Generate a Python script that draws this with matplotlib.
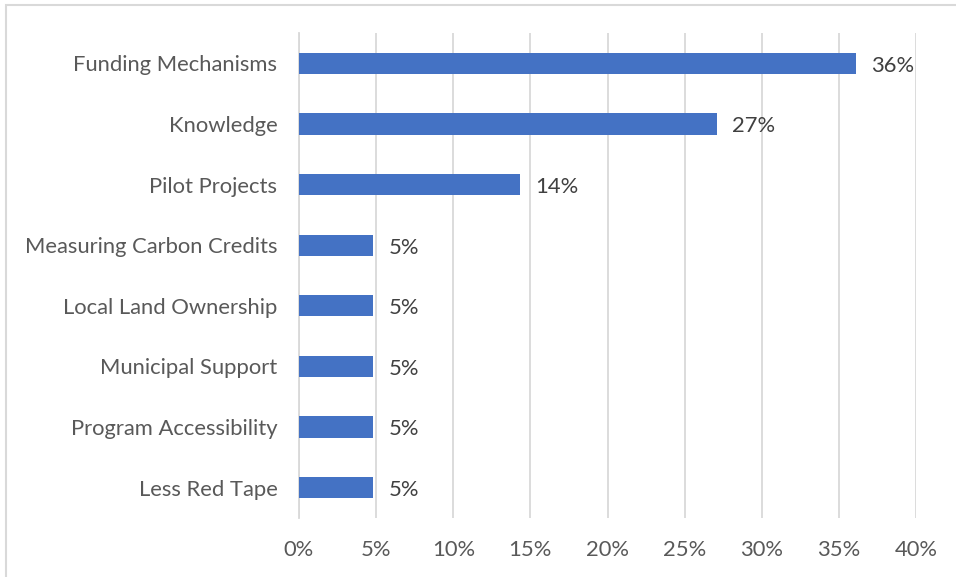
import matplotlib.pyplot as plt
from matplotlib.patches import Rectangle

# categories top to bottom
categories = ['Funding Mechanisms', 'Knowledge', 'Pilot Projects',
              'Measuring Carbon Credits', 'Local Land Ownership',
              'Municipal Support', 'Program Accessibility', 'Less Red Tape']
values = [36.1, 27.1, 14.3, 4.8, 4.8, 4.8, 4.8, 4.8]
value_labels = ['36%', '27%', '14%', '5%', '5%', '5%', '5%', '5%']
x_ticks = [0, 5, 10, 15, 20, 25, 30, 35, 40]
x_ticklabels = ['0%', '5%', '10%', '15%', '20%', '25%', '30%', '35%', '40%']

plt.rcParams['font.family'] = ['Lato', 'DejaVu Sans']
FS = 15.8

W, H = 956, 577
fig = plt.figure(figsize=(W / 100, H / 100), dpi=100)
ax = fig.add_axes([299 / W, (H - 518) / H, (916 - 299) / W, (518 - 33) / H])

# outer chart border (only top/left visible in the reference)
fig.patches.append(Rectangle((5.5 / W, -0.1), 1.2, (H - 4.5) / H + 0.1,
                             transform=fig.transFigure, fill=False,
                             edgecolor='#D9D9D9', linewidth=1.5))

ypos = list(range(len(categories)))
ax.barh(ypos, values, height=0.35, color='#4472C4', zorder=3)

for y, v, lab in zip(ypos, values, value_labels):
    ax.text(v + 1.0, y + 0.04, lab, va='center', ha='left', fontsize=FS, color='#404040')

ax.set_xlim(0, 40)
ax.set_ylim(len(categories) - 0.5, -0.5)
ax.set_xticks(x_ticks)
ax.set_xticklabels(x_ticklabels, fontsize=FS, color='#595959')
ax.set_yticks(ypos)
ax.set_yticklabels(categories, fontsize=FS, color='#595959')
ax.tick_params(axis='x', length=0, pad=16)
ax.tick_params(axis='y', length=0, pad=15.5)

ax.grid(axis='x', color='#D9D9D9', linewidth=1.3, zorder=0)
for s in ['top', 'right', 'bottom']:
    ax.spines[s].set_visible(False)
ax.spines['left'].set_color('#D9D9D9')
ax.spines['left'].set_linewidth(1.3)

fig.savefig('out.png', dpi=100)
